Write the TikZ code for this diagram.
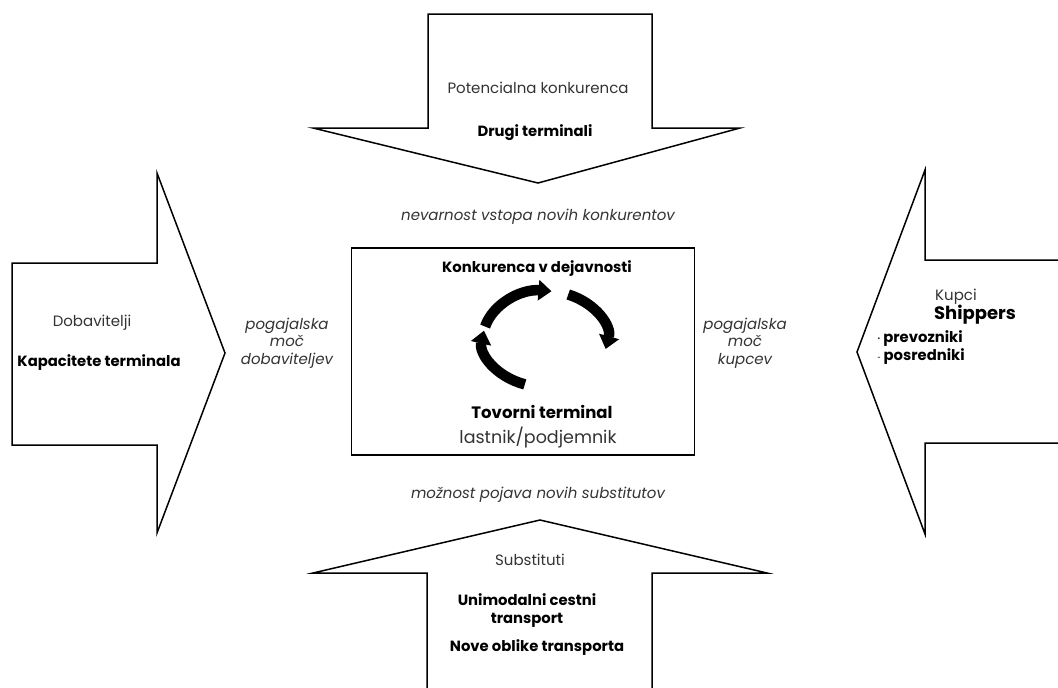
\documentclass[tikz,border=0pt]{standalone}
\usepackage{fontspec}
\setmainfont{Poppins}
\usetikzlibrary{arrows.meta}

\tikzset{
  blok/.style={draw, line width=1.5pt, fill=white, line join=miter},
  txt/.style={font=\fontsize{15}{18}\selectfont, text=black!80},
  btxt/.style={font=\fontsize{14.8}{18}\selectfont\bfseries, align=center},
  itxt/.style={font=\fontsize{15}{17.5}\selectfont\itshape, text=black!80, align=center},
  kroz/.style={line width=10.5pt, -{Triangle[width=20pt,length=13pt]}}
}

\begin{document}
\begin{tikzpicture}[x=1pt, y=-1pt]

\useasboundingbox (0,0) rectangle (1058,688);
\clip (0,0) rectangle (1058,688);

% Puscice
\draw[blok] (428,14) -- (652,14) -- (652,128) -- (740,128) -- (538,183)
	-- (313,128) -- (428,128) -- cycle;
\draw[blok] (427,700) -- (427,573) -- (313,573) -- (540,520)
	-- (767,573) -- (652,573) -- (652,700);
\draw[blok] (12,263) -- (157,263) -- (157,173) -- (225,353)
	-- (157,533) -- (157,445) -- (12,445) -- cycle;
\draw[blok] (1070,260) -- (925,260) -- (925,170) -- (857,352)
	-- (925,534) -- (925,443) -- (1070,443);

% Terminal
\node[draw, line width=1.5pt, minimum width=343pt, minimum height=207pt] (term) at (523,351.5) {};

\coordinate (cyc) at (545,339);
\foreach \a/\b in {165/84, 68/-12, 251/170}
	\draw[kroz] (cyc) ++(\a:62pt and 48pt) arc[start angle=\a, end angle=\b, x radius=62pt, y radius=48pt];

% Besedila
\node[txt] (pot) at (538,88) {Potencialna konkurenca};
\node[btxt] (drugi) at (535,133) {Drugi terminali};
\node[itxt] (nev) at (538,217) {nevarnost vstopa novih konkurentov};
\node[btxt] (konk) at (537,269) {Konkurenca v dejavnosti};
\node[btxt, font=\fontsize{16.5}{19}\selectfont\bfseries] (tov) at (542,412) {Tovorni terminal};
\node[txt, font=\fontsize{17.5}{20}\selectfont] (last) at (538,438) {lastnik/podjemnik};
\node[itxt] (mozn) at (538,495) {možnost pojava novih substitutov};
\node[txt] (subst) at (530,560) {Substituti};
\node[btxt] (unim) at (527,611) {Unimodalni cestni\\transport};
\node[btxt] (nove) at (537,648) {Nove oblike transporta};
\node[txt] (dob) at (92,323) {Dobavitelji};
\node[btxt] (kap) at (99,363) {Kapacitete terminala};
\node[itxt] (pogL) at (287,343) {pogajalska\\moč\\dobaviteljev};
\node[itxt] (pogR) at (745,343) {pogajalska\\moč\\kupcev};
\node[txt] (kupci) at (956,297) {Kupci};
\node[btxt, font=\fontsize{18}{20}\selectfont\bfseries] (ship) at (975,315) {Shippers};
\node[btxt, anchor=west] (prev) at (874,339) {{\tiny\raisebox{0.6ex}{*}} prevozniki};
\node[btxt, anchor=west] (posr) at (874,357) {{\tiny\raisebox{0.6ex}{-}} posredniki};

\end{tikzpicture}
\end{document}
